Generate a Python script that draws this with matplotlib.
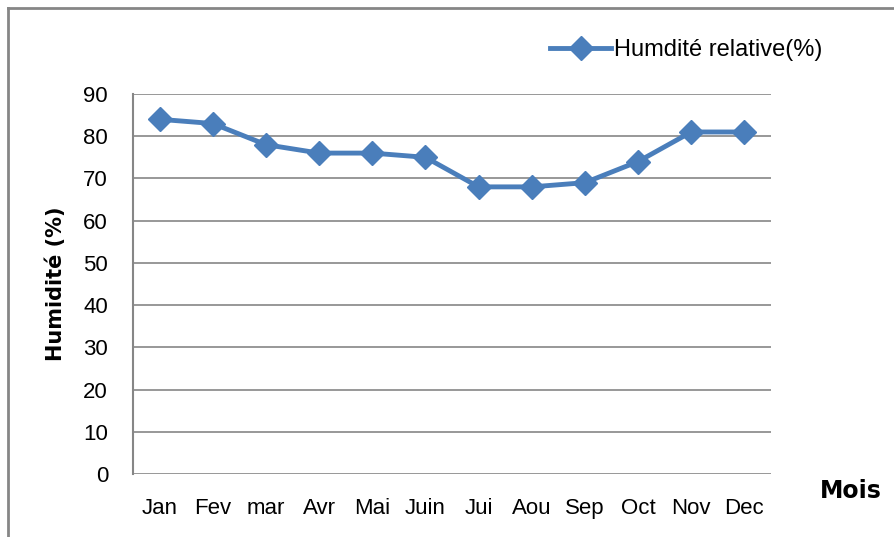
import matplotlib
matplotlib.use("Agg")
import matplotlib.pyplot as plt
from matplotlib.lines import Line2D

mois = ["Jan", "Fev", "mar", "Avr", "Mai", "Juin", "Jui", "Aou", "Sep", "Oct", "Nov", "Dec"]
humidite = [84, 83, 78, 76, 76, 75, 68, 68, 69, 74, 81, 81]
yticks = [0, 10, 20, 30, 40, 50, 60, 70, 80, 90]

bleu = "#4A7EBB"
gris = "#868686"
plt.rcParams["font.family"] = ["Liberation Sans", "DejaVu Sans"]

fig = plt.figure(figsize=(8.94, 5.37), dpi=100)
ax = fig.add_axes([0.1488, 0.1173, 0.7136, 0.7077])

# cadre gris autour du graphique (coupe a droite et en bas)
fig.add_artist(Line2D([8 / 894, 8 / 894], [0, 1 - 8 / 537], transform=fig.transFigure, color=gris, lw=2))
fig.add_artist(Line2D([8 / 894, 1], [1 - 8 / 537, 1 - 8 / 537], transform=fig.transFigure, color=gris, lw=2))

x = range(len(mois))
ax.plot(x, humidite, color=bleu, lw=3.5, marker="D", markersize=12, label="Humdité relative(%)")

ax.set_xlim(-0.5, len(mois) - 0.5)
ax.set_ylim(0, 90)
ax.set_yticks(yticks)
ax.set_xticks(list(x))
ax.set_xticklabels(mois)
ax.tick_params(axis="both", length=0, labelsize=16, colors="black")
ax.tick_params(axis="x", pad=17)
ax.tick_params(axis="y", pad=18)
ax.grid(axis="y", color=gris, lw=1.2)
ax.set_axisbelow(True)
for s in ["top", "right", "bottom"]:
    ax.spines[s].set_visible(False)
ax.spines["left"].set_color(gris)
ax.spines["left"].set_linewidth(1.5)

ax.set_ylabel("Humidité (%)", fontsize=15, fontweight="bold", family=["DejaVu Sans"], labelpad=12)
fig.text(0.917, 0.085, "Mois", fontsize=17, fontweight="bold", family=["DejaVu Sans"], va="center")

leg = ax.legend(loc="center left", bbox_to_anchor=(0.62, 1.115), frameon=False, fontsize=17,
                handlelength=2.6, handletextpad=0.1)

fig.savefig("out.png", dpi=100)
